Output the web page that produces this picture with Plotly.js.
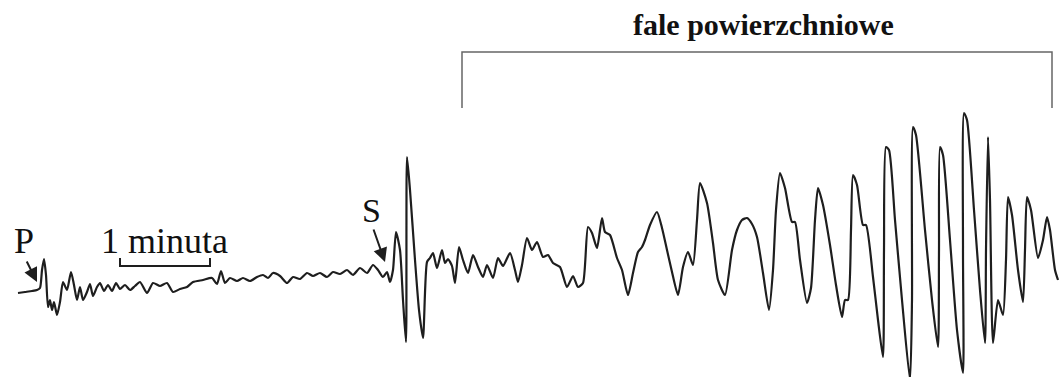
<!DOCTYPE html>
<html>
<head>
<meta charset="utf-8">
<script src="https://cdn.plot.ly/plotly-3.0.1.min.js"></script>
<style>html,body{margin:0;padding:0;background:#fff;}#chart{width:1059px;height:377px;}</style>
</head>
<body>
<div id="chart"></div>
<script>
// Seismogram trace: time (horizontal units) and amplitude (vertical units, baseline 0)
const czas = [18,25,32,37,40,42,44,46,48,50,52,54,57,60,63,67,71,74,77,80,83,87,90,93,97,100,104,108,112,116,120,125,130,135,140,147,153,160,167,173,180,187,193,203,212,217,221,225,230,237,243,250,257,263,268,273,280,287,293,300,307,313,320,327,333,340,347,353,360,367,373,378,383,387,390,393,396,400,403,406,407,410,415,419,423,427,430,433,437,442,445,448,452,455,459,463,468,473,478,483,487,493,498,503,510,515,518,522,527,532,537,543,548,553,560,567,573,578,583,588,592,597,602,605,610,617,622,628,633,638,642,645,650,657,662,667,672,678,683,688,693,697,700,707,713,718,725,732,737,742,747,752,757,763,769,773,776,780,785,792,795,800,807,811,815,818,823,830,836,842,845,848,851,853,857,863,866,873,878,883,884,886,889,895,902,910,912,913,916,925,932,938,939,940,943,950,957,963,963,964,967,974,980,985,986,988,990,993,998,1003,1006,1008,1012,1018,1023,1025,1027,1031,1038,1043,1047,1050,1055,1058];
const wychylenie = [-3,-2,-1,0,2,20,31,15,-17,-10,-20,-12,-25,-12,8,0,18,5,-10,3,-10,-2,6,-6,3,7,-1,5,-1,7,1,5,0,4,8,-3,7,4,7,-2,1,3,8,10,12,6,19,7,12,9,12,9,13,15,12,17,14,7,13,11,17,14,17,13,18,16,20,15,22,17,25,20,13,18,8,20,58,40,-10,-52,133,100,30,-20,-48,28,32,37,22,40,27,31,24,7,43,30,17,35,23,13,25,12,32,24,37,20,8,25,52,40,48,33,35,27,23,3,14,3,7,63,57,42,72,58,55,32,20,-5,17,38,43,50,65,78,62,40,18,-5,23,38,25,70,107,87,47,10,-5,40,60,70,72,66,53,17,-20,20,80,117,102,68,68,30,-13,2,70,102,85,45,5,-27,-10,-10,60,115,105,65,65,13,-30,-67,40,143,140,70,-10,-90,-10,163,155,60,-10,-57,40,143,135,50,-40,-83,40,177,170,80,0,-53,40,153,90,-53,-10,-25,30,93,75,20,-12,40,93,80,32,50,73,60,20,10];

const black = '#1e1e1e';
const baseY = 290; // helper: amplitude of a picture row (for labels/brackets)
function A(row){ return baseY - row; }

const trace = {
  x: czas, y: wychylenie, type: 'scatter', mode: 'lines',
  line: {color: black, width: 2.2, shape: 'spline', smoothing: 0.6},
  hoverinfo: 'skip'
};

const serif = 'Liberation Serif, Times New Roman, serif';
const layout = {
  width: 1059, height: 377,
  margin: {l:0, r:0, t:0, b:0},
  paper_bgcolor: '#fff', plot_bgcolor: '#fff',
  showlegend: false,
  xaxis: {range: [0, 1059], visible: false, fixedrange: true},
  yaxis: {range: [A(377), A(0)], visible: false, fixedrange: true},
  shapes: [
    // surface-wave bracket
    {type:'path', xref:'x', yref:'y',
     path: `M 462 ${A(108)} L 462 ${A(52)} L 1052 ${A(52)} L 1052 ${A(108)}`,
     line:{color:'#666', width:1.5}},
    // 1 minute scale bar
    {type:'path', xref:'x', yref:'y',
     path: `M 120 ${A(258)} L 120 ${A(266)} L 210 ${A(266)} L 210 ${A(258)}`,
     line:{color:black, width:2}}
  ],
  annotations: [
    {x: 763, y: A(24), xref:'x', yref:'y', text:'<b>fale powierzchniowe</b>', showarrow:false,
     font:{family: serif, size: 30, color:'#111'}, xanchor:'center', yanchor:'middle'},
    {x: 24, y: A(241), xref:'x', yref:'y', text:'P', showarrow:false,
     font:{family: serif, size: 36, color:'#111'}, xanchor:'center', yanchor:'middle'},
    {x: 164, y: A(241), xref:'x', yref:'y', text:'1 minuta', showarrow:false,
     font:{family: serif, size: 36, color:'#111'}, xanchor:'center', yanchor:'middle'},
    {x: 371, y: A(210), xref:'x', yref:'y', text:'S', showarrow:false,
     font:{family: serif, size: 34, color:'#111'}, xanchor:'center', yanchor:'middle'},
    // arrows
    {x: 37, y: A(282), xref:'x', yref:'y', ax: 26, ay: A(260), axref:'x', ayref:'y',
     text:'', showarrow:true, arrowhead:2, arrowsize:1.4, arrowwidth:2, arrowcolor:black},
    {x: 385, y: A(262), xref:'x', yref:'y', ax: 373, ay: A(228), axref:'x', ayref:'y',
     text:'', showarrow:true, arrowhead:2, arrowsize:1.4, arrowwidth:2, arrowcolor:black}
  ]
};

Plotly.newPlot('chart', [trace], layout, {staticPlot: true, displayModeBar: false});
</script>
</body>
</html>
